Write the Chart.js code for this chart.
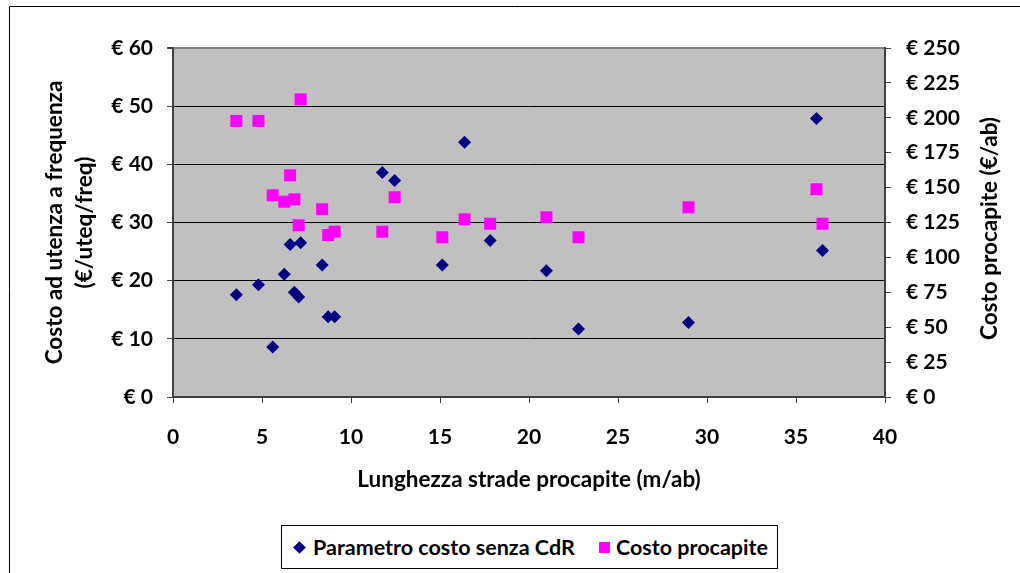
<!DOCTYPE html>
<html>
<head>
<meta charset="utf-8">
<script src="https://cdn.jsdelivr.net/npm/chart.js@4/dist/chart.umd.min.js"></script>
<style>
  body { margin: 0; background: #fff; }
  #wrap { position: relative; width: 1020px; height: 573px; overflow: hidden; }
  #legend {
    position: absolute; left: 281px; top: 525px; width: 495px; height: 42px;
    border: 1px solid #000; background: #fff;
    font: bold 21.5px Lato, sans-serif; color: #000;
  }
  #legend span { position: absolute; }
  #legend .txt { top: 9px; line-height: 24px; white-space: nowrap; }
  #legend .dia { left: 13px; top: 17px; width: 9px; height: 9px; background: #000080; transform: rotate(45deg); }
  #legend .sq { left: 317px; top: 16px; width: 11px; height: 11px; background: #ff00ff; }
</style>
</head>
<body>
<div id="wrap">
  <canvas id="chart" width="1020" height="573"></canvas>
  <div id="legend">
    <span class="dia"></span><span class="txt" style="left:31px">Parametro costo senza CdR</span>
    <span class="sq"></span><span class="txt" style="left:334px">Costo procapite</span>
  </div>
</div>
<script>
// lunghezza strade procapite (m/ab)
const lunghezza = [3.56, 4.8, 5.6, 6.25, 6.58, 6.82, 7.06, 7.17, 8.38, 8.72, 9.08,
                   11.76, 12.45, 15.13, 16.38, 17.82, 20.98, 22.78, 28.96, 36.15, 36.49];
// parametro costo senza CdR (€/uteq/freq) - asse sinistro
const parametro = [17.6, 19.3, 8.6, 21.1, 26.2, 18.0, 17.2, 26.5, 22.7, 13.8, 13.8,
                   38.6, 37.2, 22.7, 43.8, 26.9, 21.7, 11.7, 12.8, 47.9, 25.2];
// costo procapite (€/ab) - asse destro
const procapite = [197.7, 197.7, 144.5, 139.9, 158.8, 141.6, 123.0, 213.2, 134.5, 116.0, 118.4,
                   118.4, 143.1, 114.4, 127.3, 124.1, 128.7, 114.4, 135.9, 148.8, 124.1];

const labelFont = { family: 'Lato', weight: 'bold', size: 21 };
const titleFont = { family: 'Lato', weight: 'bold', size: 22.5 };
const axisGray = '#404040';

const plotBg = {
  id: 'plotBg',
  beforeDraw(chart) {
    const { ctx, chartArea: a } = chart;
    ctx.save();
    ctx.fillStyle = '#c0c0c0';
    ctx.fillRect(a.left, a.top, a.right - a.left, a.bottom - a.top);
    // cornice esterna
    ctx.strokeStyle = '#000';
    ctx.lineWidth = 1;
    ctx.beginPath();
    ctx.moveTo(9.5, 573);
    ctx.lineTo(9.5, 6.5);
    ctx.lineTo(1020, 6.5);
    ctx.stroke();
    ctx.restore();
  },
  afterDraw(chart) {
    // titolo asse destro, dal basso verso l'alto
    const { ctx, chartArea: a } = chart;
    ctx.save();
    ctx.translate(990, (a.top + a.bottom) / 2 + 6);
    ctx.rotate(-Math.PI / 2);
    ctx.font = 'bold 22.5px Lato';
    ctx.fillStyle = '#000';
    ctx.textAlign = 'center';
    ctx.textBaseline = 'middle';
    ctx.fillText('Costo procapite (€/ab)', 0, 0);
    ctx.restore();
  }
};

new Chart(document.getElementById('chart'), {
  type: 'scatter',
  data: {
    datasets: [{
      label: 'Parametro costo senza CdR',
      data: lunghezza.map((x, i) => ({ x: x, y: parametro[i] })),
      yAxisID: 'y',
      pointStyle: 'rectRot',
      pointRadius: 6.5,
      pointHoverRadius: 6.5,
      backgroundColor: '#000080',
      borderColor: '#000080',
      borderWidth: 0
    }, {
      label: 'Costo procapite',
      data: lunghezza.map((x, i) => ({ x: x, y: procapite[i] })),
      yAxisID: 'y1',
      pointStyle: 'rect',
      pointRadius: 8.5,
      pointHoverRadius: 8.5,
      backgroundColor: '#ff00ff',
      borderColor: '#ff00ff',
      borderWidth: 0
    }]
  },
  options: {
    responsive: false,
    animation: false,
    layout: { padding: { top: 48, left: 0, right: 0, bottom: 0 } },
    plugins: { legend: { display: false }, tooltip: { enabled: false } },
    scales: {
      x: {
        type: 'linear', position: 'bottom', min: 0, max: 40,
        ticks: { stepSize: 5, color: '#000', font: labelFont, padding: 22 },
        grid: { drawOnChartArea: false, drawTicks: true, tickLength: 6, tickColor: axisGray },
        border: { color: axisGray, width: 2 },
        title: { display: true, text: 'Lunghezza strade procapite (m/ab)', color: '#000',
                 font: titleFont, padding: { top: 0, bottom: 80 } },
        afterFit(s) { s.height = 176; }
      },
      y: {
        position: 'left', min: 0, max: 60,
        ticks: { stepSize: 10, color: '#000', font: labelFont, padding: 14,
                 callback: v => '€ ' + v },
        grid: {
          color: c => c.tick.value === 60 ? '#808080' : '#000',
          lineWidth: c => c.tick.value === 60 ? 2 : 1,
          tickColor: axisGray, tickLength: 6
        },
        border: { color: axisGray, width: 2 },
        title: { display: true, text: ['Costo ad utenza a frequenza', '(€/uteq/freq)'], color: '#000',
                 font: Object.assign({ lineHeight: '30px' }, titleFont), padding: { top: 40, bottom: 0 } },
        afterFit(s) { s.width = 173; }
      },
      y1: {
        position: 'right', min: 0, max: 250,
        ticks: { stepSize: 25, color: '#000', font: labelFont, padding: 15,
                 callback: v => '€ ' + v },
        grid: { drawOnChartArea: false, tickColor: axisGray, tickLength: 6 },
        border: { color: axisGray, width: 2 },
        afterFit(s) { s.width = 135; }
      }
    }
  },
  plugins: [plotBg]
});
</script>
</body>
</html>
